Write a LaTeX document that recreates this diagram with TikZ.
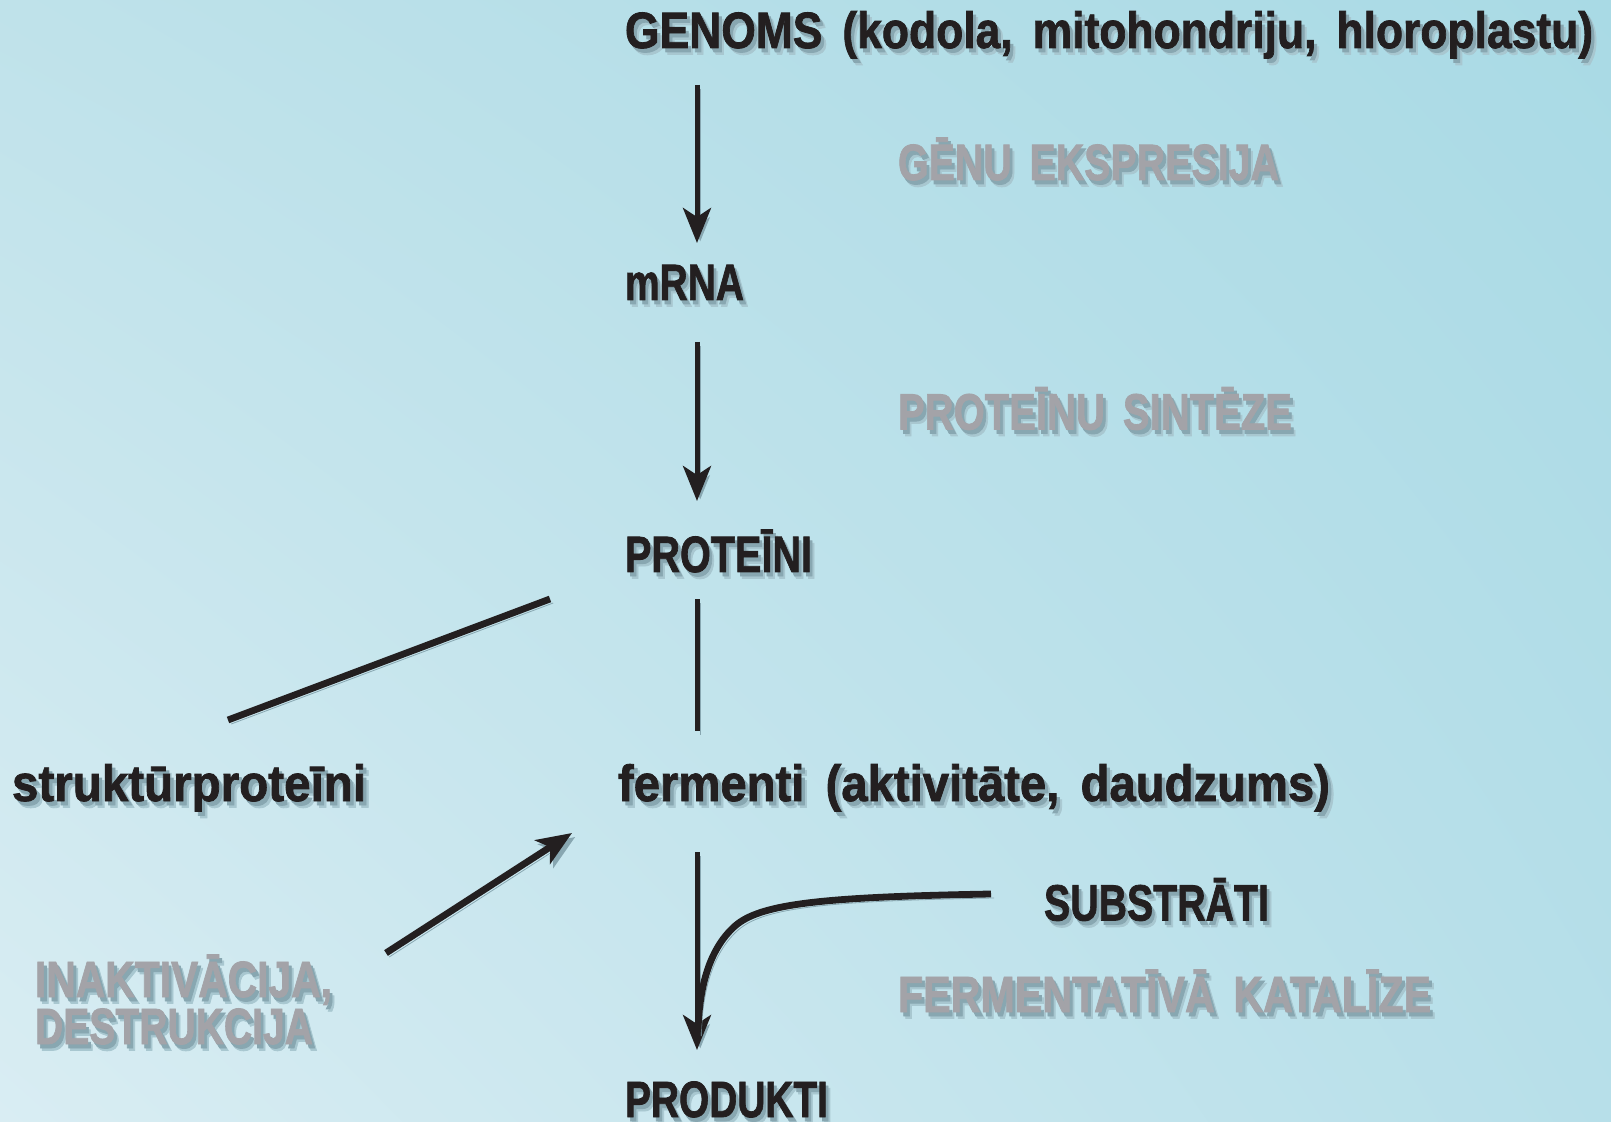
\documentclass[tikz,border=0pt]{standalone}
\usepackage{fontspec}
\setmainfont{Liberation Sans}[BoldFeatures={FakeBold=1.6}]
\usepackage{graphicx}
\usetikzlibrary{arrows.meta,shadings}
\definecolor{ink}{HTML}{231F20}
\definecolor{greytxt}{HTML}{A3A3A8}
\definecolor{shA}{HTML}{88A7B1}
\definecolor{shB}{HTML}{A8C7D0}
\definecolor{bgUL}{HTML}{BFE2EA}
\definecolor{bgUR}{HTML}{A9DAE5}
\definecolor{bgLL}{HTML}{D9EDF3}
\definecolor{bgLR}{HTML}{B7DFE9}
\newcommand\shtxt[1]{\rlap{\hspace*{3pt}\raisebox{-3.2pt}{\textcolor{shB}{#1}}}\rlap{\hspace*{1.8pt}\raisebox{-2pt}{\textcolor{shA}{#1}}}#1}
\newcommand\fitt[2]{\resizebox{#1}{\height}{\shtxt{#2}}}
\newcommand\wsp{\hspace{0.45em}}
\tikzset{
  lbl/.style={anchor=base west, inner sep=0pt, outer sep=0pt, font=\fontsize{25.5}{25.5}\selectfont\bfseries, text=ink},
  glbl/.style={lbl, text=greytxt},
  shline/.style={preaction={draw=shA, transform canvas={shift={(1.6pt,-2pt)}}}},
  thin/.style={draw=ink, line width=2.5pt, shline},
  thick/.style={draw=ink, line width=3.4pt, shline},
  arr/.style={-{Stealth[length=17.5pt,width=14pt,inset=4.5pt]}},
}
\begin{document}
\begin{tikzpicture}[x=0.5pt,y=-0.5pt]
\useasboundingbox (0,0) rectangle (1611,1122);
\shade[upper left=bgUL, upper right=bgUR, lower left=bgLL, lower right=bgLR] (0,0) rectangle (1611,1122);

% text nodes
\node[lbl] (genoms) at (625,48) {\fitt{484pt}{GENOMS\wsp(kodola,\wsp mitohondriju,\wsp hloroplastu)}};
\node[glbl] (genu) at (898,180) {\fitt{190.5pt}{GĒNU\wsp EKSPRESIJA}};
\node[lbl] (mrna) at (625,300) {\fitt{59.5pt}{mRNA}};
\node[glbl] (sint) at (898,429.5) {\fitt{197pt}{PROTEĪNU\wsp SINTĒZE}};
\node[lbl] (prot) at (625,572) {\fitt{93.5pt}{PROTEĪNI}};
\node[lbl] (strukt) at (12,801) {\fitt{177pt}{struktūrproteīni}};
\node[lbl] (ferm) at (618,801) {\fitt{356pt}{fermenti\wsp(aktivitāte,\wsp daudzums)}};
\node[lbl] (subst) at (1044,920.5) {\fitt{112.5pt}{SUBSTRĀTI}};
\node[glbl] (kat) at (898,1012) {\fitt{266.5pt}{FERMENTATĪVĀ\wsp KATALĪZE}};
\node[glbl] (inakt) at (35,997) {\vtop{\baselineskip=23.5pt\lineskiplimit=-100pt
  \hbox{\fitt{148.5pt}{INAKTIVĀCIJA,}}\hbox{\fitt{139pt}{DESTRUKCIJA}}}};
\node[lbl] (prod) at (625,1117) {\fitt{101.5pt}{PRODUKTI}};

% connector end points
\coordinate (a1s) at (697,85);   \coordinate (a1e) at (697,243);
\coordinate (a2s) at (697,342);  \coordinate (a2e) at (697,501);
\coordinate (l3s) at (697,599);  \coordinate (l3e) at (697,731);
\coordinate (l4s) at (550,599);  \coordinate (l4e) at (228,720);
\coordinate (a5s) at (386,953);  \coordinate (a5e) at (572,833);
\coordinate (a6s) at (697,852);  \coordinate (a6e) at (697,1050);
\coordinate (cs)  at (991,894);  \coordinate (cm) at (735,926);
\coordinate (ce)  at (698,1032);

% connectors
\draw[thin, arr] (a1s) -- (a1e);
\draw[thin, arr] (a2s) -- (a2e);
\draw[thin] (l3s) -- (l3e);
\draw[thick] (l4s) -- (l4e);
\draw[thick, arr] (a5s) -- (a5e);
\draw[thin, arr] (a6s) -- (a6e);
\draw[thick] (cs) .. controls (820,897) and (760,904) .. (cm) .. controls (708,950) and (699,990) .. (ce);
\end{tikzpicture}
\end{document}
